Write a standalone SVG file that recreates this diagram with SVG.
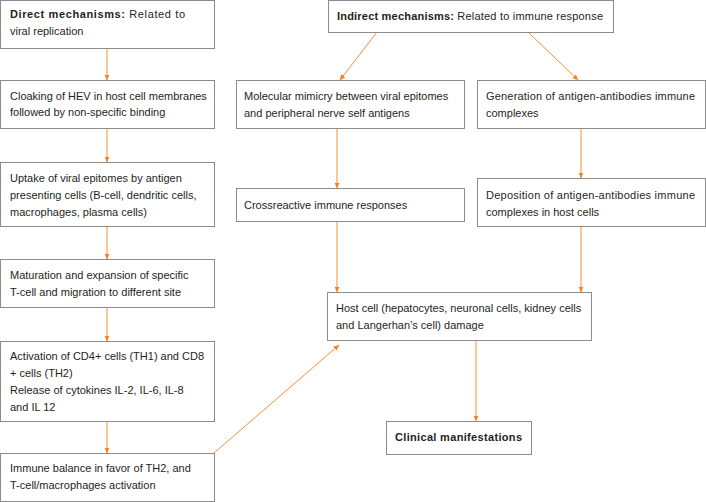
<svg xmlns="http://www.w3.org/2000/svg" width="706" height="502" viewBox="0 0 706 502">
<style>
.box{fill:#fff;stroke:#8c8c8c;stroke-width:1}
text{font-family:"Liberation Sans",Arial,sans-serif;font-size:11px;fill:#231f20}
.b{font-weight:bold}
.c{fill:none;stroke:#f58220;stroke-width:0.9}
</style>
<defs>
<marker id="ah" markerWidth="6" markerHeight="6" refX="5.5" refY="3" orient="auto" markerUnits="userSpaceOnUse">
<path d="M0,0.5 L6,3 L0,5.5 Z" fill="#f58220"/>
</marker>
</defs>
<g id="connectors">
<line class="c" x1="107" y1="48" x2="107" y2="80" marker-end="url(#ah)"/>
<line class="c" x1="107" y1="128" x2="107" y2="162" marker-end="url(#ah)"/>
<line class="c" x1="107" y1="226" x2="107" y2="259" marker-end="url(#ah)"/>
<line class="c" x1="107" y1="307" x2="107" y2="341" marker-end="url(#ah)"/>
<line class="c" x1="107" y1="421" x2="107" y2="453" marker-end="url(#ah)"/>
<line class="c" x1="214" y1="453" x2="339" y2="345" marker-end="url(#ah)"/>
<line class="c" x1="377" y1="32" x2="340" y2="80" marker-end="url(#ah)"/>
<line class="c" x1="528" y1="32" x2="578" y2="80" marker-end="url(#ah)"/>
<line class="c" x1="337" y1="128" x2="337" y2="188" marker-end="url(#ah)"/>
<line class="c" x1="581" y1="128" x2="581" y2="178" marker-end="url(#ah)"/>
<line class="c" x1="337" y1="221" x2="337" y2="292" marker-end="url(#ah)"/>
<line class="c" x1="581" y1="226" x2="581" y2="292" marker-end="url(#ah)"/>
<line class="c" x1="476" y1="340" x2="476" y2="421" marker-end="url(#ah)"/>
</g>
<g id="direct">
<rect class="box" x="0.5" y="0.5" width="214" height="48"/>
<text x="10" y="18" textLength="175" lengthAdjust="spacing"><tspan class="b">Direct mechanisms:</tspan> Related to</text>
<text x="10" y="35">viral replication</text>
</g>
<g id="cloaking">
<rect class="box" x="0.5" y="80.5" width="214" height="48"/>
<text x="10" y="100">Cloaking of HEV in host cell membranes</text>
<text x="10" y="116">followed by non-specific binding</text>
</g>
<g id="uptake">
<rect class="box" x="0.5" y="162.5" width="214" height="64"/>
<text x="10" y="182">Uptake of viral epitomes by antigen</text>
<text x="10" y="199">presenting cells (B-cell, dendritic cells,</text>
<text x="10" y="216">macrophages, plasma cells)</text>
</g>
<g id="maturation">
<rect class="box" x="0.5" y="259.5" width="214" height="48"/>
<text x="10" y="279">Maturation and expansion of specific</text>
<text x="10" y="296">T-cell and migration to different site</text>
</g>
<g id="activation">
<rect class="box" x="0.5" y="341.5" width="214" height="80"/>
<text x="10" y="360" textLength="194" lengthAdjust="spacing">Activation of CD4+ cells (TH1) and CD8</text>
<text x="10" y="377">+ cells (TH2)</text>
<text x="10" y="394">Release of cytokines IL-2, IL-6, IL-8</text>
<text x="10" y="411">and IL 12</text>
</g>
<g id="balance">
<rect class="box" x="0.5" y="453.5" width="214" height="48"/>
<text x="10" y="472">Immune balance in favor of TH2, and</text>
<text x="10" y="489">T-cell/macrophages activation</text>
</g>
<g id="indirect">
<rect class="box" x="328.5" y="0.5" width="285" height="32"/>
<text x="337" y="20" textLength="266" lengthAdjust="spacing"><tspan class="b">Indirect mechanisms:</tspan> Related to immune response</text>
</g>
<g id="mimicry">
<rect class="box" x="236.5" y="80.5" width="228" height="48"/>
<text x="244" y="100">Molecular mimicry between viral epitomes</text>
<text x="244" y="117">and peripheral nerve self antigens</text>
</g>
<g id="generation">
<rect class="box" x="477.5" y="80.5" width="228" height="48"/>
<text x="486" y="100" textLength="209" lengthAdjust="spacing">Generation of antigen-antibodies immune</text>
<text x="486" y="117">complexes</text>
</g>
<g id="crossreactive">
<rect class="box" x="236.5" y="188.5" width="228" height="33"/>
<text x="244" y="209">Crossreactive immune responses</text>
</g>
<g id="deposition">
<rect class="box" x="477.5" y="178.5" width="228" height="48"/>
<text x="486" y="199" textLength="209" lengthAdjust="spacing">Deposition of antigen-antibodies immune</text>
<text x="486" y="216">complexes in host cells</text>
</g>
<g id="hostcell">
<rect class="box" x="327.5" y="292.5" width="264" height="48"/>
<text x="336" y="312">Host cell (hepatocytes, neuronal cells, kidney cells</text>
<text x="336" y="329">and Langerhan’s cell) damage</text>
</g>
<g id="clinical">
<rect class="box" x="386.5" y="421.5" width="145" height="33"/>
<text class="b" x="395" y="441" textLength="127" lengthAdjust="spacing">Clinical manifestations</text>
</g>
</svg>
